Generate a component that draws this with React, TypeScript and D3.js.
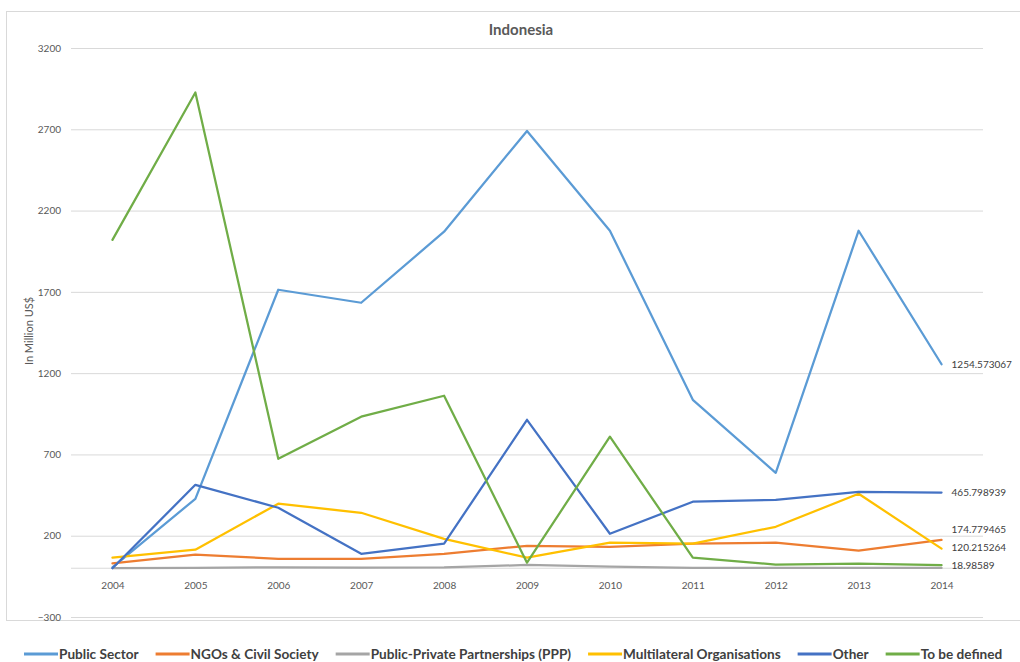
import * as d3 from "d3";
import { useEffect, useRef } from "react";

const W = 1020;
const H = 662;
const margin = { top: 48, right: 37, bottom: 45, left: 71 };

const years = ["2004", "2005", "2006", "2007", "2008", "2009", "2010", "2011", "2012", "2013", "2014"];
const yTicks = [-300, 200, 700, 1200, 1700, 2200, 2700, 3200];

const seriesNames = [
  "Public Sector",
  "NGOs & Civil Society",
  "Public-Private Partnerships (PPP)",
  "Multilateral Organisations",
  "Other",
  "To be defined",
];
const seriesColors = ["#5B9BD5", "#ED7D31", "#A5A5A5", "#FFC000", "#4472C4", "#70AD47"];

const publicSector = [5, 427, 1713, 1633, 2070, 2690, 2076, 1036, 587, 2076, 1254.573067];
const ngos = [30, 83, 58, 58, 89, 138, 132, 151, 157, 108, 174.779465];
const ppp = [0, 2, 6, 3, 5, 20, 10, 2, 2, 2, 2];
const multilateral = [65, 114, 397, 341, 181, 65, 157, 151, 255, 458, 120.215264];
const other = [0, 513, 372, 89, 151, 913, 212, 409, 421, 470, 465.798939];
const toBeDefined = [2020, 2926, 673, 932, 1061, 34, 809, 65, 22, 28, 18.98589];

const allSeries = [publicSector, ngos, ppp, multilateral, other, toBeDefined];
// which series carry an end label
const endLabels = [true, true, false, true, true, true];

export default function App() {
  const svgRef = useRef<SVGSVGElement>(null);

  useEffect(() => {
    const svg = d3.select(svgRef.current);
    svg.selectAll("*").remove();

    const x = d3.scalePoint(years, [margin.left, W - margin.right]).padding(0.5);
    const y = d3.scaleLinear([-300, 3200], [617, margin.top]);

    // chart frame
    svg.append("rect")
      .attr("x", 6.5).attr("y", 11.5).attr("width", W + 10).attr("height", 609)
      .attr("fill", "#fff").attr("stroke", "#d9d9d9");

    svg.append("text")
      .attr("x", 521).attr("y", 35)
      .attr("text-anchor", "middle")
      .attr("font-size", 15).attr("font-weight", 700)
      .attr("fill", "#595959")
      .text("Indonesia");

    // gridlines + y labels
    const gy = svg.append("g")
      .attr("transform", `translate(${margin.left},0)`)
      .call(d3.axisLeft(y).tickValues(yTicks).tickSize(-(W - margin.right - margin.left)).tickPadding(10).tickFormat(d3.format("d")));
    gy.select(".domain").remove();
    gy.selectAll(".tick line").attr("stroke", "#d9d9d9");
    gy.selectAll(".tick text").attr("fill", "#595959").attr("font-size", 10).attr("font-family", "Lato");

    // category axis on zero
    const gx = svg.append("g")
      .attr("transform", `translate(0,${y(0)})`)
      .call(d3.axisBottom(x).tickSize(0).tickPadding(14));
    gx.select(".domain").attr("stroke", "#d9d9d9").attr("d", `M${margin.left},0H${W - margin.right}`);
    gx.selectAll(".tick text").attr("fill", "#595959").attr("font-size", 10).attr("font-family", "Lato");

    svg.append("text")
      .attr("transform", `translate(33,331) rotate(-90)`)
      .attr("text-anchor", "middle")
      .attr("font-size", 11).attr("font-family", "Lato")
      .attr("fill", "#595959")
      .text("In Million US$");

    const line = d3.line<number>()
      .x((_, i) => x(years[i])!)
      .y(d => y(d));

    allSeries.forEach((vals, i) => {
      svg.append("path")
        .datum(vals)
        .attr("d", line)
        .attr("fill", "none")
        .attr("stroke", seriesColors[i])
        .attr("stroke-width", 2.25)
        .attr("stroke-linejoin", "round")
        .attr("stroke-linecap", "round");
    });

    // end labels with simple overlap avoidance
    const last = years[years.length - 1];
    const lab = allSeries
      .map((vals, i) => ({ v: vals[vals.length - 1], show: endLabels[i], py: y(vals[vals.length - 1]) }))
      .filter(d => d.show)
      .sort((a, b) => b.py - a.py);
    for (let i = 1; i < lab.length; i++) {
      if (lab[i - 1].py - lab[i].py < 18) lab[i].py = lab[i - 1].py - 18;
    }
    lab.forEach(d => {
      svg.append("text")
        .attr("x", x(last)! + 10).attr("y", d.py)
        .attr("dy", "0.35em")
        .attr("font-size", 10).attr("font-family", "Lato")
        .attr("fill", "#404040")
        .text(String(d.v));
    });

    // legend
    let lx = 24;
    const ly = 654;
    seriesNames.forEach((name, i) => {
      svg.append("line")
        .attr("x1", lx).attr("x2", lx + 34).attr("y1", ly).attr("y2", ly)
        .attr("stroke", seriesColors[i]).attr("stroke-width", 3);
      const t = svg.append("text")
        .attr("x", lx + 35).attr("y", ly).attr("dy", "0.35em")
        .attr("font-size", 13.6).attr("font-weight", 700).attr("font-family", "Lato")
        .attr("fill", "#404040")
        .text(name);
      const w = (t.node() as SVGTextElement).getComputedTextLength();
      lx = lx + 35 + w + 17;
    });
  }, []);

  return (
    <svg
      ref={svgRef}
      width={W}
      height={H}
      style={{ position: "absolute", left: 0, top: 0, fontFamily: "Lato" }}
    />
  );
}
